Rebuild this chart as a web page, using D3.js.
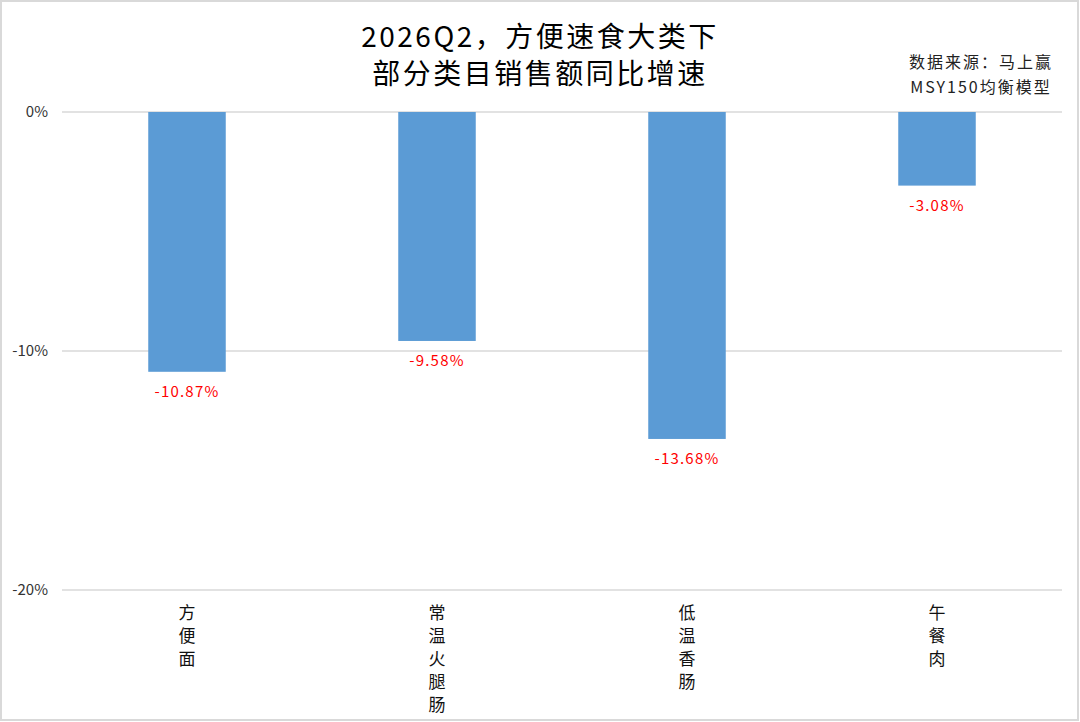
<!DOCTYPE html>
<html>
<head>
<meta charset="utf-8">
<script src="https://cdn.jsdelivr.net/npm/d3@7"></script>
<style>
  body { margin: 0; background: #fff; }
  svg { display: block; }
  text { font-family: "Noto Sans CJK SC", "Noto Sans", sans-serif; }
</style>
</head>
<body>
<svg id="chart" width="1080" height="722"></svg>
<script>
// category names and growth rates (%)
const categories = ["方便面", "常温火腿肠", "低温香肠", "午餐肉"];
const growth = [-10.87, -9.58, -13.68, -3.08];
const yTicks = [0, -10, -20];
const titleLines = ["2026Q2，方便速食大类下", "部分类目销售额同比增速"];
const sourceLines = ["数据来源：马上赢", "MSY150均衡模型"];

const svg = d3.select("#chart");
const W = 1080, H = 722;

// outer frame
svg.append("rect")
  .attr("x", 1).attr("y", 1).attr("width", W - 3).attr("height", H - 3)
  .attr("fill", "#fff").attr("stroke", "#d9d9d9").attr("stroke-width", 2);

const x = d3.scaleBand().domain(categories).range([62, 1062]).paddingInner(0.69).paddingOuter(0.345);
const y = d3.scaleLinear().domain([0, -20]).range([112, 590]);

// grid lines
svg.append("g").selectAll("line").data(yTicks).join("line")
  .attr("x1", 62).attr("x2", 1062)
  .attr("y1", d => y(d)).attr("y2", d => y(d))
  .attr("stroke", "#d9d9d9").attr("stroke-width", 1.5);

// y axis labels
svg.append("g").selectAll("text").data(yTicks).join("text")
  .attr("x", 48).attr("y", d => y(d)).attr("dy", "0.35em")
  .attr("text-anchor", "end").attr("font-size", 15).attr("fill", "#333")
  .text(d => d + "%");

// bars
svg.append("g").selectAll("rect").data(growth).join("rect")
  .attr("x", (d, i) => x(categories[i]))
  .attr("y", y(0))
  .attr("width", x.bandwidth())
  .attr("height", d => y(d) - y(0))
  .attr("fill", "#5b9bd5");

// value labels
svg.append("g").selectAll("text").data(growth).join("text")
  .attr("x", (d, i) => x(categories[i]) + x.bandwidth() / 2)
  .attr("y", d => y(d) + 25)
  .attr("text-anchor", "middle").attr("font-size", 15).attr("letter-spacing", 1.2)
  .attr("fill", "#ff0000")
  .text(d => d.toFixed(2) + "%");

// category labels, one character per line
const cat = svg.append("g").selectAll("text").data(categories).join("text")
  .attr("x", d => x(d) + x.bandwidth() / 2)
  .attr("y", 619)
  .attr("text-anchor", "middle").attr("font-size", 17).attr("fill", "#111");
cat.each(function(d) {
  const t = d3.select(this);
  Array.from(d).forEach((ch, k) => {
    t.append("tspan").attr("x", t.attr("x")).attr("dy", k === 0 ? 0 : 23).text(ch);
  });
});

// title
svg.append("g").selectAll("text").data(titleLines).join("text")
  .attr("x", 540).attr("y", (d, i) => 47 + i * 37)
  .attr("text-anchor", "middle").attr("font-size", 28).attr("letter-spacing", 2.5)
  .attr("fill", "#000")
  .text(d => d);

// source note
svg.append("g").selectAll("text").data(sourceLines).join("text")
  .attr("x", 981).attr("y", (d, i) => 68 + i * 25)
  .attr("text-anchor", "middle").attr("font-size", 16).attr("letter-spacing", 2)
  .attr("fill", "#222")
  .text(d => d);
</script>
</body>
</html>
